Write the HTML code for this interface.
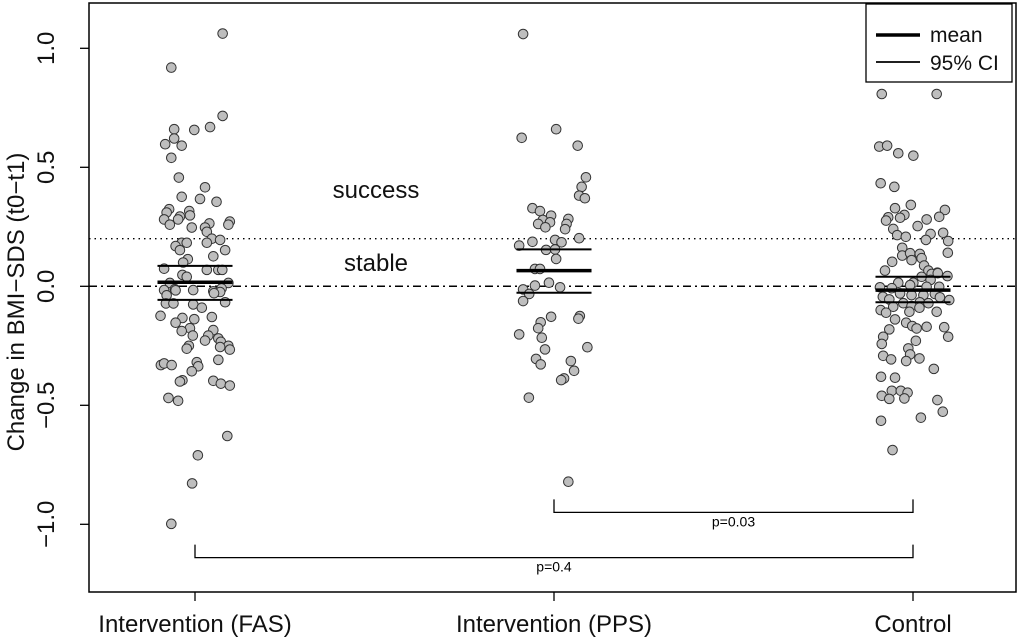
<!DOCTYPE html>
<html><head><meta charset="utf-8"><style>
html,body{margin:0;padding:0;background:#fff;}
svg{display:block;font-family:"Liberation Sans",Arial,sans-serif;}
</style></head><body>
<svg id="chart" width="1024" height="642" viewBox="0 0 1024 642"></svg>
<script>
const categories = ["Intervention (FAS)", "Intervention (PPS)", "Control"];
const yTicks = [1.0, 0.5, 0.0, -0.5, -1.0];
const yTickLabels = ["1.0", "0.5", "0.0", "\u22120.5", "\u22121.0"];
const fasValues = [1.062,0.919,0.716,0.660,0.657,0.669,0.621,0.597,0.591,0.54,0.457,0.416,0.376,0.367,0.355,0.324,0.31,0.316,0.298,0.293,0.281,0.281,0.259,0.272,0.259,0.264,0.247,0.247,0.229,0.2,0.195,0.183,0.183,0.183,0.169,0.152,0.152,0.126,0.114,0.1,0.074,0.069,0.069,0.069,0.048,0.04,0.014,0.014,-0.016,-0.012,-0.016,-0.021,-0.009,-0.038,-0.017,-0.024,-0.029,-0.072,-0.072,-0.076,-0.09,-0.067,-0.124,-0.133,-0.138,-0.129,-0.153,-0.176,-0.188,-0.184,-0.207,-0.207,-0.219,-0.233,-0.228,-0.25,-0.266,-0.25,-0.262,-0.255,-0.331,-0.324,-0.331,-0.319,-0.336,-0.309,-0.357,-0.395,-0.4,-0.397,-0.409,-0.417,-0.469,-0.481,-0.629,-0.71,-0.828,-0.998];
const fasJitter = [0.077,-0.066,0.077,-0.058,-0.002,0.042,-0.058,-0.083,-0.037,-0.066,-0.045,0.028,-0.037,0.014,0.06,-0.072,-0.079,-0.016,-0.014,-0.042,-0.047,-0.086,-0.07,0.097,0.093,0.04,-0.009,0.028,0.033,0.047,0.07,-0.037,-0.023,0.033,-0.054,-0.042,0.084,0.051,-0.02,-0.033,-0.086,0.033,0.065,0.076,-0.035,-0.023,-0.07,0.093,-0.086,-0.056,-0.005,0.051,0.074,-0.079,-0.054,0.07,0.053,-0.081,-0.06,-0.005,0.019,0.084,-0.096,-0.035,-0.002,0.047,-0.054,-0.014,-0.037,0.051,-0.006,0.037,0.065,0.072,0.028,0.093,0.097,-0.017,-0.023,0.07,-0.095,-0.086,-0.065,0.005,0.009,0.065,-0.009,-0.035,-0.042,0.051,0.072,0.097,-0.074,-0.047,0.09,0.008,-0.008,-0.066];
const ppsValues = [1.06,0.66,0.624,0.591,0.458,0.418,0.381,0.37,0.328,0.316,0.297,0.279,0.283,0.269,0.262,0.262,0.248,0.24,0.202,0.195,0.187,0.185,0.171,0.153,0.155,0.115,0.073,0.073,0.015,0.003,-0.004,-0.013,-0.032,-0.062,-0.128,-0.125,-0.136,-0.151,-0.176,-0.202,-0.216,-0.256,-0.265,-0.305,-0.314,-0.328,-0.355,-0.387,-0.394,-0.468,-0.821];
const ppsJitter = [-0.086,0.006,-0.09,0.066,0.089,0.077,0.07,0.086,-0.06,-0.039,-0.008,-0.031,0.04,-0.011,0.035,-0.044,-0.024,0.031,0.07,0.003,-0.06,0.021,-0.097,-0.022,0.003,0.006,-0.053,-0.039,-0.014,-0.053,0.017,-0.086,-0.069,-0.086,-0.008,0.072,0.068,-0.037,-0.044,-0.097,-0.034,0.093,-0.025,-0.05,0.047,-0.037,0.056,0.028,0.02,-0.07,0.04];
const ctlValues = [0.808,0.808,0.587,0.591,0.559,0.549,0.433,0.418,0.342,0.328,0.321,0.3,0.292,0.29,0.276,0.288,0.281,0.253,0.241,0.22,0.225,0.215,0.208,0.195,0.19,0.162,0.141,0.129,0.139,0.136,0.11,0.118,0.103,0.087,0.066,0.066,0.057,0.043,0.052,0.04,0.055,0.027,0.015,0.015,-0.004,-0.008,0.005,-0.002,-0.002,-0.03,-0.037,-0.037,-0.032,-0.044,-0.055,-0.046,-0.058,-0.071,-0.067,-0.071,-0.086,-0.083,-0.09,-0.1,-0.111,-0.107,-0.107,-0.139,-0.153,-0.167,-0.177,-0.17,-0.172,-0.181,-0.212,-0.212,-0.242,-0.229,-0.261,-0.286,-0.292,-0.307,-0.314,-0.303,-0.347,-0.38,-0.384,-0.439,-0.439,-0.447,-0.46,-0.473,-0.471,-0.478,-0.527,-0.552,-0.565,-0.688];
const ctlJitter = [-0.087,0.066,-0.094,-0.072,-0.041,0.001,-0.09,-0.052,-0.006,-0.05,0.089,-0.024,0.073,-0.069,-0.075,-0.036,0.038,0.013,-0.055,0.049,0.084,-0.044,-0.02,0.036,0.098,-0.03,0.097,-0.03,-0.008,0.019,-0.004,0.024,-0.058,0.031,-0.078,0.043,0.068,0.096,0.052,0.024,0.069,0.049,0.001,-0.041,-0.092,-0.059,-0.008,0.038,0.073,-0.036,-0.004,0.029,0.061,-0.084,-0.066,0.075,0.101,-0.027,0.019,0.043,-0.055,-0.004,0.018,-0.09,-0.075,-0.01,0.066,-0.05,-0.019,-0.002,0.01,0.038,0.087,-0.066,0.098,-0.083,-0.087,0.008,-0.013,-0.008,-0.083,-0.061,-0.019,0.018,0.058,-0.089,-0.05,-0.059,-0.034,-0.015,-0.087,-0.066,-0.024,0.068,0.083,0.022,-0.089,-0.057];
const means = [0.017, 0.066, -0.016];
const ciLow = [-0.057, -0.027, -0.067];
const ciHigh = [0.086, 0.155, 0.04];
const refLines = [0.2, 0.0];
const compFrom = [1, 0];
const compTo = [2, 2];
const compY = [-0.95, -1.14];
const compLabels = ["p=0.03", "p=0.4"];

const NS = "http://www.w3.org/2000/svg";
const svg = document.getElementById("chart");
const L = 89, R = 1016, T = 3, B = 592;
function yScale(v){ return 286.3 - v * 238; }
function xScale(i){ return 195 + i * 359; }
const halfW = 0.1045;
function mk(tag, attrs, parent){
  const e = document.createElementNS(NS, tag);
  for (const k in attrs) e.setAttribute(k, attrs[k]);
  (parent || svg).appendChild(e);
  return e;
}

const rl0 = mk("line",{x1:L,x2:R,y1:yScale(refLines[0]),y2:yScale(refLines[0]),stroke:"#000","stroke-width":1.3,"stroke-dasharray":"1.5 4"});


const rl1 = mk("line",{x1:L,x2:R,y1:yScale(refLines[1]),y2:yScale(refLines[1]),stroke:"#000","stroke-width":1.5,"stroke-dasharray":"8 4 2 4"});



const groups = [[fasValues,fasJitter],[ppsValues,ppsJitter],[ctlValues,ctlJitter]];
groups.forEach((g, gi) => {
  const grp = mk("g", {});
  
  
  g[0].forEach((v, i) => {
    const c = mk("circle",{cx:xScale(gi + g[1][i]),cy:yScale(v),r:4.8,fill:"#bebebe",stroke:"#333","stroke-width":1}, grp);
    
    
  });
});

means.forEach((m, i) => {
  const x1 = xScale(i - halfW), x2 = xScale(i + halfW);
  const ml = mk("line",{x1:x1,x2:x2,y1:yScale(m),y2:yScale(m),stroke:"#000","stroke-width":3.5});
  
  
  const cl = mk("line",{x1:x1,x2:x2,y1:yScale(ciLow[i]),y2:yScale(ciLow[i]),stroke:"#000","stroke-width":2});
  
  
  const ch = mk("line",{x1:x1,x2:x2,y1:yScale(ciHigh[i]),y2:yScale(ciHigh[i]),stroke:"#000","stroke-width":2});
  
  
});

compFrom.forEach((f, i) => {
  const y = yScale(compY[i]);
  const p = mk("path",{d:`M${xScale(f)},${y-13} V${y} H${xScale(compTo[i])} V${y-13}`,fill:"none",stroke:"#000","stroke-width":1.3});
  
  
  const t = mk("text",{x:(xScale(f)+xScale(compTo[i]))/2,y:y+14,"text-anchor":"middle","font-size":14});
  t.textContent = compLabels[i];
  
  
});

const fr = mk("rect",{x:L,y:T,width:R-L,height:B-T,fill:"none",stroke:"#000","stroke-width":1.5});



yTicks.forEach((v, i) => {
  const y = yScale(v);
  const tk = mk("line",{x1:L-9,x2:L,y1:y,y2:y,stroke:"#000","stroke-width":1.3});
  
  
  const t = mk("text",{x:0,y:0,transform:`translate(54,${y}) rotate(-90)`,"text-anchor":"middle","font-size":24,fill:"#111"});
  t.textContent = yTickLabels[i];
  
  
});

categories.forEach((c, i) => {
  const x = xScale(i);
  const tk = mk("line",{x1:x,x2:x,y1:B,y2:B+9,stroke:"#000","stroke-width":1.3});
  
  
  const t = mk("text",{x:x,y:632,"text-anchor":"middle","font-size":24,fill:"#111"});
  t.textContent = c;
  
  
});

const yt = mk("text",{x:0,y:0,transform:"translate(24,302) rotate(-90)","text-anchor":"middle","font-size":24,fill:"#111"});
yt.textContent = "Change in BMI\u2212SDS (t0\u2212t1)";



const s1 = mk("text",{x:376,y:198,"text-anchor":"middle","font-size":24,fill:"#111"});
s1.textContent = "success";


const s2 = mk("text",{x:376,y:271,"text-anchor":"middle","font-size":24,fill:"#111"});
s2.textContent = "stable";



const lg = mk("g",{});


mk("rect",{x:866,y:4,width:146,height:78,fill:"#fff",stroke:"#000","stroke-width":1.3},lg);
const l1 = mk("line",{x1:876,x2:920,y1:35,y2:35,stroke:"#000","stroke-width":3.5},lg);


const l2 = mk("line",{x1:876,x2:920,y1:62,y2:62,stroke:"#000","stroke-width":1.8},lg);


const lt1 = mk("text",{x:930,y:42,"font-size":21,fill:"#111"},lg);
lt1.textContent = "mean";


const lt2 = mk("text",{x:930,y:70,"font-size":21,fill:"#111"},lg);
lt2.textContent = "95% CI";


</script>
</body></html>
